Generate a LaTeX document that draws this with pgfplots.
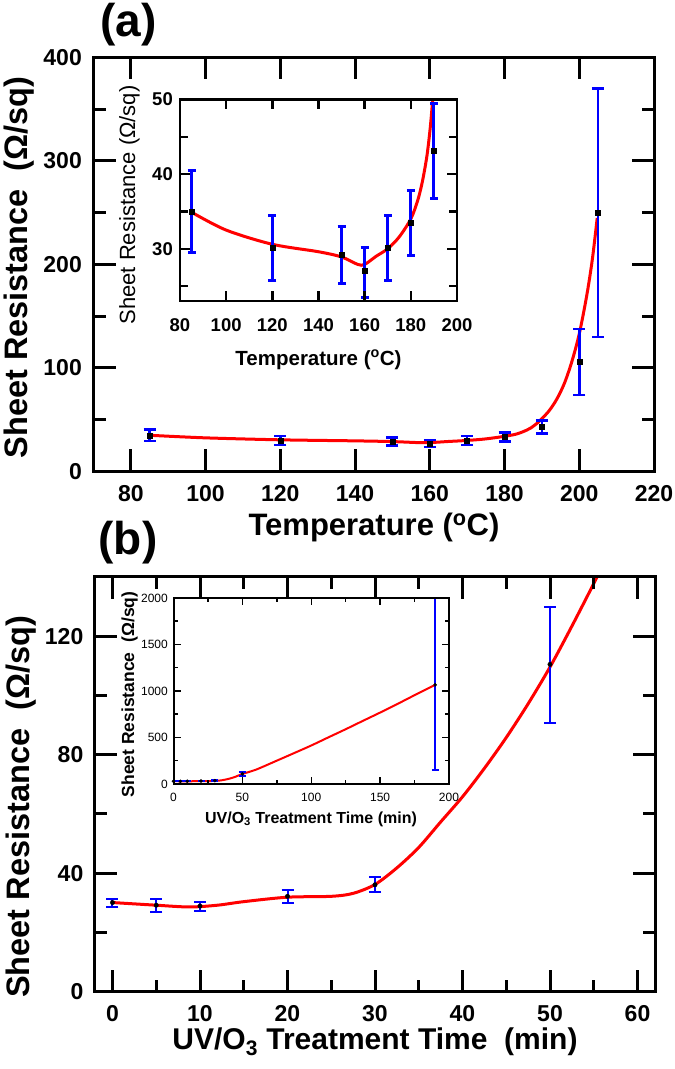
\documentclass[border=0pt]{standalone}
\usepackage{fontspec}
\setmainfont{Liberation Sans}
\usepackage{pgfplots}
\pgfplotsset{compat=1.18}

\newcommand{\fs}[1]{\fontsize{#1}{#1}\selectfont}

\pgfplotsset{
  mainax/.style={
    scale only axis, anchor=south west, axis on top,
    axis line style={line width=3pt},
    tick style={line width=3pt, black},
    major tick length=22pt, minor tick length=12pt,
    /pgf/number format/assume math mode=true,
    tick label style={font=\fs{23}\bfseries, inner sep=0pt},
    xticklabel shift=13.5pt, yticklabel shift=11.5pt,
  },
  errpts/.style={
    only marks, black,
    error bars/y dir=both, error bars/y explicit,
    error bars/error bar style={blue, line width=#1},
    error bars/error mark=|,
  },
}

% inward ticks on both sides: {list}{low}{high}{length}{line width}
\newcommand{\xticks}[5]{\pgfplotsinvokeforeach{#1}{%
  \draw[black, line width=#5] (axis cs:##1,#2) -- ++(0pt,#4)
    (axis cs:##1,#3) -- ++(0pt,-#4);}}
\newcommand{\yticks}[5]{\pgfplotsinvokeforeach{#1}{%
  \draw[black, line width=#5] (axis cs:#2,##1) -- ++(#4,0pt)
    (axis cs:#3,##1) -- ++(-#4,0pt);}}

\begin{document}
\begin{tikzpicture}

% panel letters and axis titles
\node[font=\fs{46}\bfseries] at (128.5pt,1044pt) {(a)};
\node[font=\fs{46}\bfseries] at (128pt,526pt) {(b)};
\node[font=\fs{31}\bfseries] at (374pt,542pt) {Temperature (\textsuperscript{o}C)};
\node[font=\fs{32.5}\bfseries, rotate=90] at (19pt,801.5pt) {Sheet Resistance~~(Ω/sq)};
\node[font=\fs{20.5}\bfseries] at (318.5pt,709pt) {Temperature (\textsuperscript{o}C)};
\node[font=\fs{22}, rotate=90] at (129.5pt,864pt) {Sheet Resistance (Ω/sq)};
\node[font=\fs{30}\bfseries] at (375pt,27pt) {UV/O\textsubscript{3} Treatment Time~~(min)};
\node[font=\fs{32.5}\bfseries, rotate=90] at (21pt,262pt) {Sheet Resistance~~(Ω/sq)};
\node[font=\fs{16}\bfseries] at (311pt,250pt) {UV/O\textsubscript{3} Treatment Time (min)};
\node[font=\fs{17.5}\bfseries, rotate=90] at (129.5pt,374.5pt) {Sheet Resistance~~(Ω/sq)};

% (a) sheet resistance vs annealing temperature
\begin{axis}[mainax,
  at={(93.5pt,597.5pt)}, width=560.5pt, height=414pt,
  xmin=70, xmax=220, ymin=0, ymax=400,
  xtick={80,100,...,220}, ytick={0,100,...,400},
  minor ytick={50,150,250,350},
]
\xticks{80,100,...,200}{0}{400}{22pt}{3pt}
\yticks{100,200,300}{70}{220}{22pt}{3pt}
\yticks{50,150,250,350}{70}{220}{12pt}{3pt}
\addplot[red, line width=3pt, smooth] coordinates {
  (85,35) (100,32.5) (120,30.6) (140,29.6) (150,28.9) (157,27.9) (160,27.9)
  (165,29) (170,30) (175,31.5) (180,34) (183,36) (185,38.5) (187,42) (189,47.5)
  (190,51) (192,59) (194,70) (196,85) (198,106) (200,133) (202,170)
  (203.5,205) (204.8,245)
};
\addplot[errpts=2.5pt, mark=square*, mark size=2.5pt,
  error bars/error mark options={blue, line width=2.5pt, mark size=6pt}] coordinates {
  (85,35) += (0,5.5) -= (0,5.5)
  (120,30.2) += (0,4.3) -= (0,4.4)
  (150,29.2) += (0,3.8) -= (0,3.9)
  (160,27) += (0,3.2) -= (0,3.5)
  (170,30.1) += (0,4.4) -= (0,4.4)
  (180,33.5) += (0,4.3) -= (0,4.4)
  (190,43.2) += (0,6.3) -= (0,6.4)
  (200,106) += (0,31.7) -= (0,32.3)
  (205,250) += (0,120) -= (0,120)
};
\end{axis}

% (a) inset
\begin{axis}[scale only axis, anchor=south west, axis on top,
  at={(180pt,768pt)}, width=277pt, height=201.5pt,
  xmin=80, xmax=200, ymin=23, ymax=50,
  xtick={80,100,...,200}, ytick={30,40,50}, minor ytick={25,35,45},
  axis line style={line width=2.5pt},
  tick style={line width=2.5pt, black},
  major tick length=10pt, minor tick length=8pt,
  /pgf/number format/assume math mode=true,
  tick label style={font=\fs{18.5}\bfseries, inner sep=0pt},
  xticklabel shift=17pt, yticklabel shift=7pt,
]
\xticks{100,120,...,180}{23}{50}{10pt}{2.5pt}
\yticks{25,30,...,45}{80}{200}{8pt}{2.5pt}
\addplot[red, line width=3pt, smooth] coordinates {
  (85,34.9) (100,32.5) (120,30.6) (140,29.6) (150,28.9) (157,27.9) (160,27.9)
  (165,29) (170,30) (175,31.6) (180,34) (183,36.5) (185,39) (187,42.5)
  (188.5,46.5) (189.6,50.5)
};
\addplot[errpts=3pt, mark=square*, mark size=2.5pt,
  error bars/error mark options={blue, line width=3pt, mark size=4pt}] coordinates {
  (85,35) += (0,5.5) -= (0,5.5)
  (120,30.2) += (0,4.3) -= (0,4.4)
  (150,29.2) += (0,3.8) -= (0,3.9)
  (160,27) += (0,3.2) -= (0,3.5)
  (170,30.1) += (0,4.4) -= (0,4.4)
  (180,33.5) += (0,4.3) -= (0,4.4)
  (190,43.2) += (0,6.3) -= (0,6.4)
};
\end{axis}

% (b) sheet resistance vs UV/O3 treatment time
\begin{axis}[mainax,
  at={(95pt,77.3pt)}, width=560pt, height=414.7pt,
  xmin=-2, xmax=62, ymin=0, ymax=140,
  xtick={0,10,...,60}, minor xtick={5,15,...,55},
  ytick={0,40,80,120}, minor ytick={20,60,100},
]
\xticks{0,10,...,60}{0}{140}{22pt}{3pt}
\xticks{5,15,...,55}{0}{140}{12pt}{3pt}
\yticks{40,80,120}{-2}{62}{22pt}{3pt}
\yticks{20,60,100}{-2}{62}{12pt}{3pt}
\addplot[red, line width=3pt, smooth] coordinates {
  (0,30.1) (5,29.2) (8.8,28.6) (12,29.2) (15,30.4) (20,31.9) (25,32.2)
  (27.5,33.2) (30,36.2) (32.5,41.8) (35,48.7) (37.5,57.3) (40,65.8)
  (42.5,75.4) (45,85.8) (47.5,97.2) (50,109.6) (52.5,123.4) (55,137.8) (56,144)
};
\addplot[errpts=2pt, mark=*, mark size=2.2pt,
  error bars/error mark options={blue, line width=2pt, mark size=6pt}] coordinates {
  (0,30.1) += (0,1.3) -= (0,1.4)
  (5,29.2) += (0,2.2) -= (0,2.4)
  (10,28.9) += (0,1.4) -= (0,1.6)
  (20,32.2) += (0,2.2) -= (0,2.4)
  (30,36.1) += (0,2.5) -= (0,2.5)
  (50,110.5) += (0,19.5) -= (0,19.9)
};
\end{axis}

% (b) inset
\begin{axis}[scale only axis, anchor=south west, axis on top,
  at={(173.5pt,285pt)}, width=275.5pt, height=186pt,
  xmin=0, xmax=200, ymin=0, ymax=2000,
  xtick={0,50,...,200}, minor xtick={25,75,125,175},
  ytick={0,500,...,2000}, minor ytick={250,750,1250,1750},
  axis line style={line width=2pt},
  tick style={line width=1.5pt, black},
  major tick length=7pt, minor tick length=4pt,
  /pgf/number format/assume math mode=true,
  /pgf/number format/1000 sep={},
  tick label style={font=\fs{12}, inner sep=0pt},
  xticklabel shift=9pt, yticklabel shift=5.5pt,
]
\xticks{50,100,150}{0}{2000}{7pt}{1.5pt}
\xticks{25,75,125,175}{0}{2000}{4pt}{1.5pt}
\yticks{500,1000,1500}{0}{200}{7pt}{1.5pt}
\yticks{250,750,1250,1750}{0}{200}{4pt}{1.5pt}
\addplot[red, line width=2pt, smooth] coordinates {
  (0,30) (10,29) (20,31) (30,33) (35,40) (40,55) (45,78) (50,108) (60,155)
  (75,251) (87.5,332) (100,414) (112.5,502) (125,589) (137.5,679) (150,768)
  (162.5,860) (175,955) (190,1066)
};
\addplot[errpts=1.8pt, mark=*, mark size=1.6pt,
  error bars/error mark options={blue, line width=1.8pt, mark size=3.5pt}] coordinates {
  (0,30) += (0,2) -= (0,2)
  (5,29) += (0,2) -= (0,2)
  (10,29) += (0,2) -= (0,2)
  (20,32) += (0,2) -= (0,2)
  (30,36) += (0,3) -= (0,3)
  (50,108) += (0,20) -= (0,20)
  (190,1066) += (0,1000) -= (0,919)
};
\end{axis}

\pgfresetboundingbox
\path[use as bounding box] (0pt,0pt) rectangle (675pt,1069pt);
\end{tikzpicture}
\end{document}
